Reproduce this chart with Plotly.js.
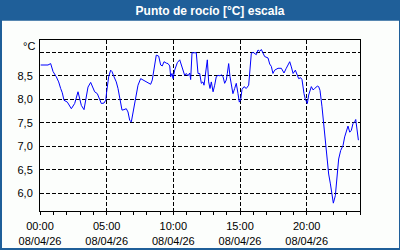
<!DOCTYPE html>
<html><head><meta charset="utf-8">
<script src="https://cdn.plot.ly/plotly-3.0.1.min.js"></script>
<style>html,body{margin:0;padding:0;background:#fcfefc;}#c{width:400px;height:250px;}</style>
</head><body><div id="c"></div>
<script>
// hours since 00:00 on 08/04/26
const hours = [0.05,0.60,0.80,0.98,1.22,1.40,1.55,1.67,1.80,2.05,2.35,2.60,2.85,2.98,3.10,3.30,3.47,3.60,3.80,3.98,4.10,4.30,4.48,4.60,4.80,4.93,5.00,5.15,5.30,5.40,5.55,5.72,5.85,6.00,6.15,6.30,6.47,6.60,6.73,6.85,6.98,7.15,7.35,7.55,7.80,8.05,8.30,8.42,8.55,8.72,8.90,9.05,9.17,9.30,9.47,9.60,9.73,9.80,9.90,9.98,10.10,10.30,10.48,10.60,10.73,10.85,10.97,11.10,11.23,11.30,11.40,11.72,11.85,11.98,12.10,12.22,12.30,12.40,12.55,12.65,12.75,12.85,12.98,13.10,13.22,13.35,13.50,13.60,13.72,13.85,13.97,14.05,14.15,14.25,14.35,14.47,14.60,14.72,14.85,14.95,15.05,15.15,15.30,15.47,15.65,15.73,15.85,15.98,16.10,16.22,16.35,16.48,16.60,16.72,16.85,17.10,17.23,17.35,17.47,17.60,17.85,18.10,18.30,18.47,18.73,18.85,18.98,19.15,19.30,19.40,19.55,19.65,19.80,19.90,20.05,20.15,20.35,20.48,20.60,20.80,20.90,21.00,21.15,21.28,21.40,21.55,21.65,21.78,21.90,22.00,22.15,22.28,22.40,22.55,22.73,22.85,22.97,23.10,23.23,23.35,23.47,23.60,23.68,23.78,23.88];
const dewPoint = [8.73,8.73,8.76,8.59,8.48,8.37,8.23,8.14,7.98,7.94,7.80,7.91,8.16,8.02,7.87,7.78,8.05,8.26,8.36,8.23,8.16,8.12,7.98,7.91,7.92,7.98,8.16,8.48,8.62,8.59,8.48,8.37,8.23,8.02,7.77,7.78,7.80,7.73,7.55,7.52,7.73,7.98,8.30,8.44,8.40,8.35,8.32,8.41,8.69,8.94,8.92,8.73,8.71,8.80,8.77,8.76,8.71,8.48,8.55,8.44,8.62,8.78,8.84,8.73,8.59,8.51,8.55,8.50,8.56,8.42,8.99,8.99,8.55,8.55,8.34,8.37,8.30,8.48,8.84,8.37,8.23,8.37,8.16,8.30,8.48,8.51,8.50,8.52,8.49,8.34,8.41,8.55,8.76,8.48,8.27,8.12,8.23,8.34,8.12,7.94,7.99,8.21,8.27,8.23,8.30,8.55,8.98,9.00,8.98,8.95,9.05,9.02,9.06,8.98,8.91,8.88,8.75,8.70,8.55,8.62,8.66,8.66,8.56,8.66,8.80,8.69,8.55,8.62,8.49,8.44,8.46,8.42,8.12,8.00,7.91,8.09,8.27,8.20,8.23,8.28,8.27,8.19,7.84,7.45,7.06,6.77,6.41,6.20,5.91,5.79,5.95,6.34,6.73,6.91,7.02,7.20,7.34,7.43,7.30,7.34,7.48,7.52,7.57,7.35,7.13];
const xTickVals = [0,5,10,15,20];
const xTickText = ['00:00<br>08/04/26','05:00<br>08/04/26','10:00<br>08/04/26','15:00<br>08/04/26','20:00<br>08/04/26'];
const yTickVals = [6,6.5,7,7.5,8,8.5,9];
const yTickText = ['6,0','6,5','7,0','7,5','8,0','8,5',''];
const titleText = 'Punto de rocío [°C] escala';
const unitText = '°C';

const BG = '#fcfefc', BLUE = '#1f5f99';
const W = 400, H = 250, L = 40, R = 40, T = 40, B = 39;
const pw = W - L - R, ph = H - T - B;
const px = v => (v - L) / pw;            // pixel x -> paper
const py = v => (H - B - v) / ph;        // pixel y -> paper

const font = {family: 'Liberation Sans, Arial, sans-serif', size: 11, color: '#000'};
const shapes = [
  {type:'rect', xref:'paper', yref:'paper', x0:px(0), x1:px(400), y0:py(20.7), y1:py(0), fillcolor:BLUE, line:{width:0}, layer:'below'},
  {type:'rect', xref:'paper', yref:'paper', x0:px(0), x1:px(2), y0:py(250), y1:py(0), fillcolor:BLUE, line:{width:0}, layer:'below'},
  {type:'rect', xref:'paper', yref:'paper', x0:px(399), x1:px(400), y0:py(250), y1:py(0), fillcolor:BLUE, line:{width:0}, layer:'below'},
  {type:'rect', xref:'paper', yref:'paper', x0:px(0), x1:px(400), y0:py(250), y1:py(248), fillcolor:BLUE, line:{width:0}, layer:'below'}
];

Plotly.newPlot('c', [{
  x: hours, y: dewPoint, type: 'scatter', mode: 'lines',
  line: {color: '#0000ff', width: 1}, hoverinfo: 'skip'
}], {
  width: W, height: H,
  margin: {l: L, r: R, t: T, b: B, pad: 0},
  paper_bgcolor: BG, plot_bgcolor: BG,
  showlegend: false,
  font: font,
  title: {text: '<b>' + titleText + '</b>', x: 210/400, xref: 'container', xanchor: 'center',
          y: 1 - 10.5/250, yref: 'container', yanchor: 'middle',
          font: {family: 'Liberation Sans, Arial, sans-serif', size: 12, color: '#ffffff'}},
  xaxis: {
    range: [0, 24], tickmode: 'array', tickvals: xTickVals, ticktext: xTickText,
    ticks: 'outside', ticklen: 3, tickcolor: '#000', tickwidth: 1, ticklabelstandoff: 2,
    minor: {dtick: 1, tick0: 0, ticks: 'outside', ticklen: 3, tickcolor: '#000', tickwidth: 1, showgrid: false},
    showgrid: true, gridcolor: '#000', gridwidth: 1, griddash: '4px,2px',
    showline: true, linecolor: '#000', linewidth: 1, mirror: true, zeroline: false,
    tickfont: font, fixedrange: true
  },
  yaxis: {
    range: [5.623, 9.262], tickmode: 'array', tickvals: yTickVals, ticktext: yTickText,
    ticks: '', ticklabelstandoff: 4,
    showgrid: true, gridcolor: '#000', gridwidth: 1, griddash: '4px,2px',
    showline: true, linecolor: '#000', linewidth: 1, mirror: true, zeroline: false,
    tickfont: font, fixedrange: true
  },
  shapes: shapes,
  annotations: [{text: unitText, xref: 'paper', yref: 'paper', x: 0, y: py(45.5), xanchor: 'right', yanchor: 'middle',
                 xshift: -3, showarrow: false, font: font}]
}, {staticPlot: true, displayModeBar: false});
</script></body></html>
